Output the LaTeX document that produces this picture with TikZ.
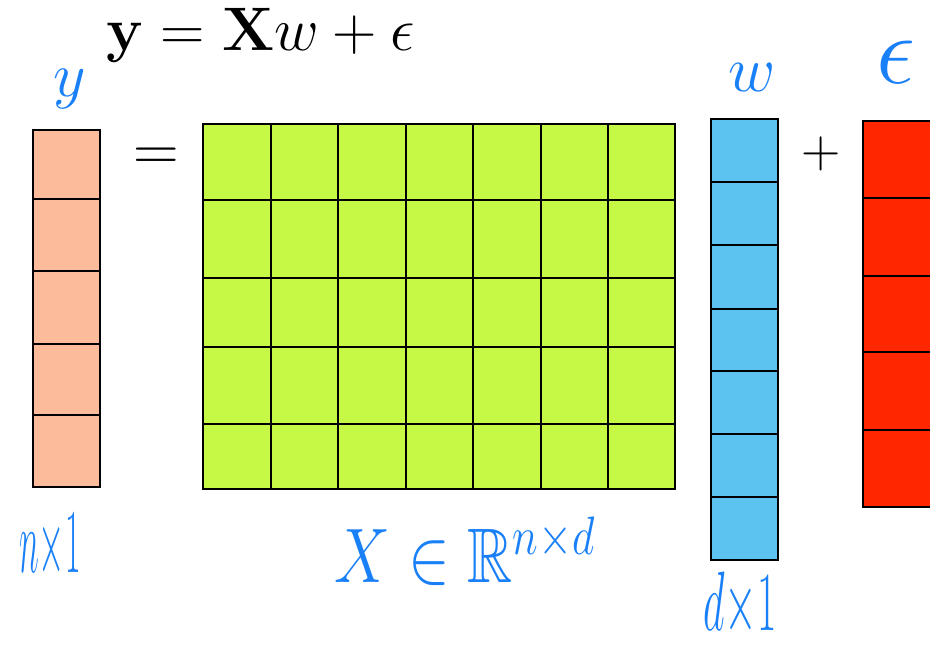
\RequirePackage{fix-cm}
\documentclass[tikz,border=0pt]{standalone}
\usepackage{graphicx,amsmath,amssymb,xcolor}
\definecolor{vpeach}{RGB}{252,188,156}
\definecolor{vlime}{RGB}{198,249,69}
\definecolor{vsky}{RGB}{92,195,241}
\definecolor{vred}{RGB}{255,38,0}
\definecolor{inkblue}{RGB}{26,128,247}
\usetikzlibrary{positioning}

\newcommand{\narrow}[2][0.4]{\scalebox{#1}[1]{#2}}

\begin{document}
\begin{tikzpicture}[
  x=0.02cm,y=-0.02cm,
  cell/.style={draw=black,line width=1.1pt},
  ycell/.style={cell,fill=vpeach},
  xcell/.style={cell,fill=vlime},
  wcell/.style={cell,fill=vsky},
  ecell/.style={cell,fill=vred},
  hand/.style={text=inkblue,inner sep=0pt},
  sym/.style={inner sep=0pt,anchor=base}
]
  \useasboundingbox (0,0) rectangle (930,653);
  \clip (0,0) rectangle (930,653);

  \node[sym,anchor=base west,font=\fontsize{35}{40}\selectfont] (eqn) at (106,50)
    {$\mathbf{y} = \mathbf{X}w + \epsilon$};

  \foreach \t/\b in {130/199,199/271,271/344,344/415,415/487}
    \draw[ycell] (33,\t) rectangle (100,\b);

  \foreach \t/\b in {124/200,200/278,278/347,347/424,424/489}
    \foreach \l/\r in {203/271,271/338,338/406,406/473,473/541,541/608,608/675}
      \draw[xcell] (\l,\t) rectangle (\r,\b);

  \foreach \t/\b in {119/182,182/245,245/309,309/371,371/434,434/497,497/560}
    \draw[wcell] (711,\t) rectangle (778,\b);

  \foreach \t/\b in {121/198,198/276,276/352,352/430,430/507}
    \draw[ecell] (863,\t) rectangle (960,\b);

  \node[sym,font=\fontsize{36}{40}\selectfont] (equal) at (156,170) {$=$};
  \node[sym,font=\fontsize{31}{34}\selectfont] (plus) at (821,167) {$+$};

  \node[hand,font=\fontsize{36}{40}\selectfont] (ylab) at (70,89) {$y$};
  \node[hand,font=\fontsize{37}{40}\selectfont] (wlab) at (752,78) {$w$};
  \node[hand,font=\fontsize{56}{60}\selectfont] (elab) at (896,62) {$\epsilon$};
  \node[hand,font=\fontsize{52}{56}\selectfont] (nlab) at (50,547) {\narrow[0.37]{$n{\times}1$}};
  \node[hand,font=\fontsize{44}{48}\selectfont] (xlab) at (465,551)
    {\narrow[0.81]{$X\in\mathbb{R}^{n\times d}$}};
  \node[hand,font=\fontsize{48}{52}\selectfont] (dlab) at (740,605) {\narrow[0.5]{$d{\times}1$}};
\end{tikzpicture}
\end{document}
